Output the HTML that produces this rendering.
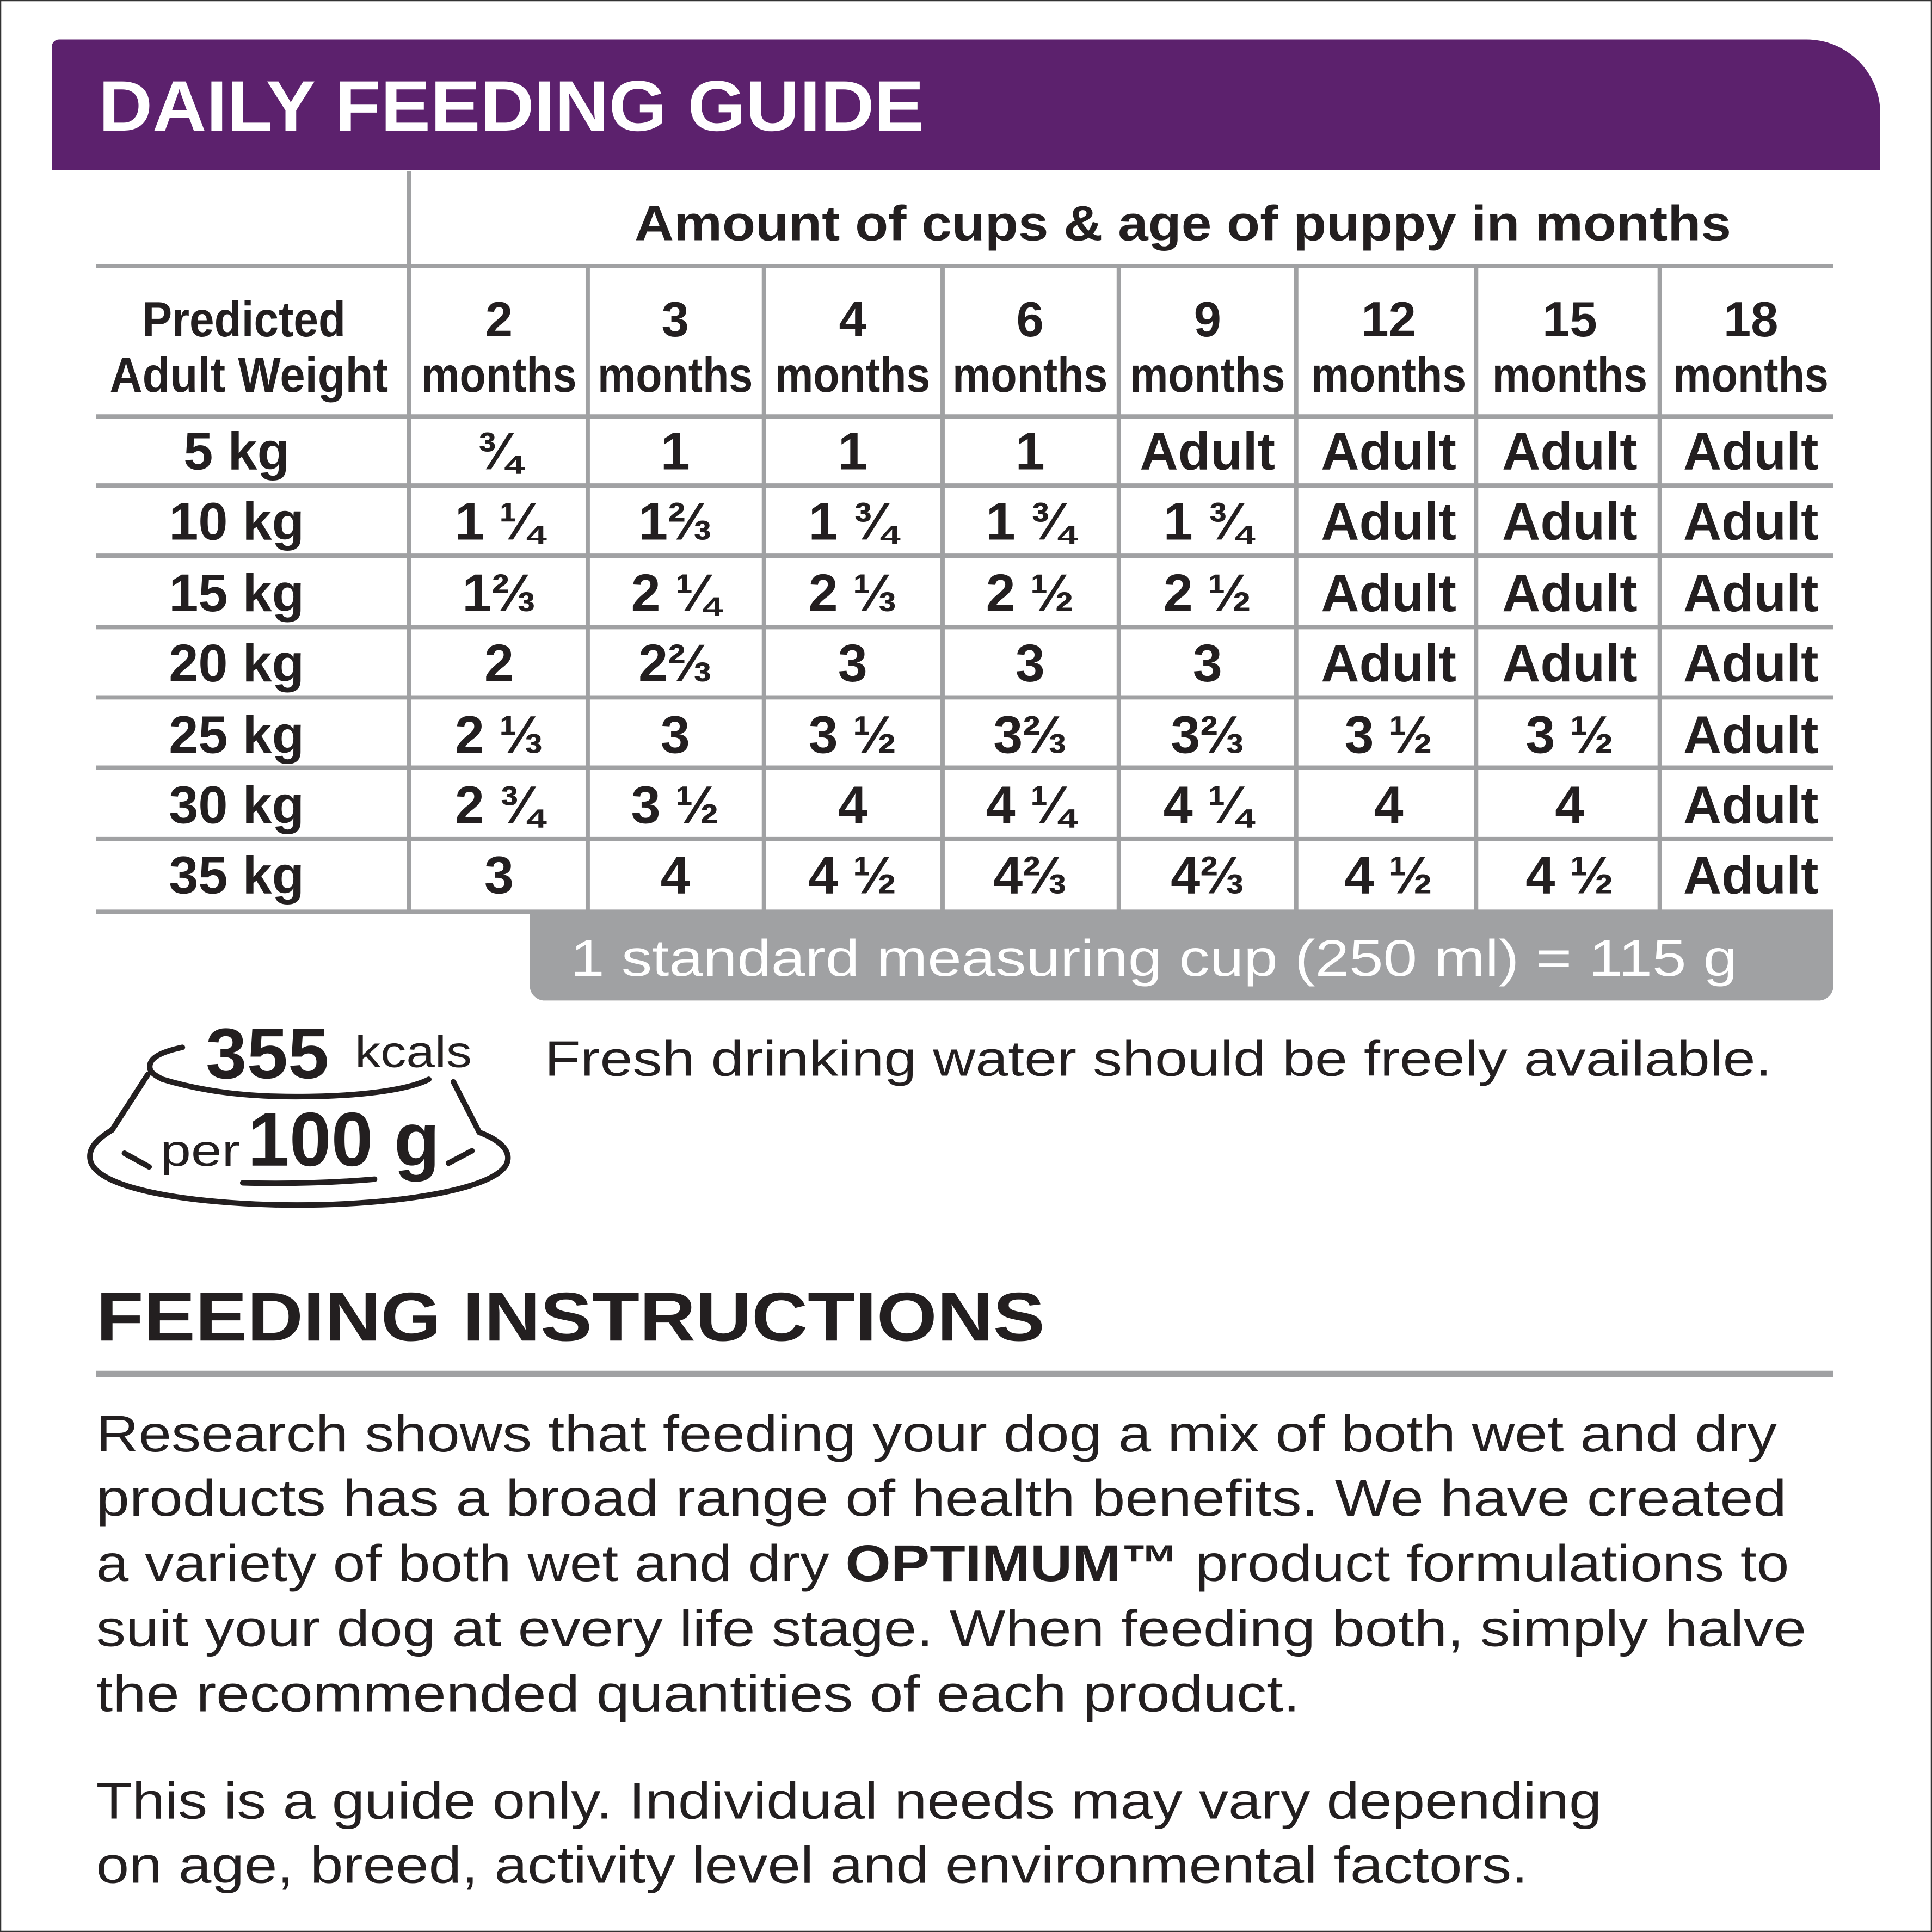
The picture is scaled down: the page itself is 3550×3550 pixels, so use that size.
<!DOCTYPE html>
<html><head><meta charset="utf-8"><style>
html,body{margin:0;padding:0;background:#fff;}
svg{display:block;}
text{font-family:"Liberation Sans",sans-serif;fill:#231f20;}
</style></head><body>
<svg width="3550" height="3550" viewBox="0 0 1568 1568" xmlns="http://www.w3.org/2000/svg">
<rect x="0.5" y="0.5" width="1567" height="1567" fill="#fff" stroke="#333" stroke-width="1"/>
<path d="M48 32 H1466 A60 60 0 0 1 1526 92 V138 H42 V38 A6 6 0 0 1 48 32 Z" fill="#5c216d"/>
<text x="80" y="106" font-size="58" font-weight="bold" style="fill:#fff" textLength="670" lengthAdjust="spacingAndGlyphs">DAILY FEEDING GUIDE</text>
<g stroke="#a0a1a3" stroke-width="3.5" fill="none">
<line x1="332" y1="139" x2="332" y2="740"/>
<line x1="78" y1="216" x2="1488" y2="216"/>
<line x1="78" y1="338" x2="1488" y2="338"/>
<line x1="78" y1="394" x2="1488" y2="394"/>
<line x1="78" y1="451" x2="1488" y2="451"/>
<line x1="78" y1="509" x2="1488" y2="509"/>
<line x1="78" y1="566" x2="1488" y2="566"/>
<line x1="78" y1="623" x2="1488" y2="623"/>
<line x1="78" y1="681" x2="1488" y2="681"/>
<line x1="78" y1="740" x2="1488" y2="740"/>
<line x1="477" y1="216" x2="477" y2="740"/>
<line x1="620" y1="216" x2="620" y2="740"/>
<line x1="765" y1="216" x2="765" y2="740"/>
<line x1="908" y1="216" x2="908" y2="740"/>
<line x1="1052" y1="216" x2="1052" y2="740"/>
<line x1="1198" y1="216" x2="1198" y2="740"/>
<line x1="1347" y1="216" x2="1347" y2="740"/>
<line x1="78" y1="1115" x2="1488" y2="1115" stroke-width="5"/>
</g>
<text x="960" y="195" font-size="40" font-weight="bold" text-anchor="middle" textLength="890" lengthAdjust="spacingAndGlyphs">Amount of cups &amp; age of puppy in months</text>
<g font-size="40" font-weight="bold" text-anchor="middle">
<text x="198" y="273" textLength="165" lengthAdjust="spacingAndGlyphs">Predicted</text>
<text x="202" y="318" textLength="226" lengthAdjust="spacingAndGlyphs">Adult Weight</text>
<text x="405" y="273">2</text><text x="548" y="273">3</text><text x="692" y="273">4</text><text x="836" y="273">6</text>
<text x="980" y="273">9</text><text x="1127" y="273">12</text><text x="1274" y="273">15</text><text x="1421" y="273">18</text>
<text x="405" y="318" textLength="126" lengthAdjust="spacingAndGlyphs">months</text>
<text x="548" y="318" textLength="126" lengthAdjust="spacingAndGlyphs">months</text>
<text x="692" y="318" textLength="126" lengthAdjust="spacingAndGlyphs">months</text>
<text x="836" y="318" textLength="126" lengthAdjust="spacingAndGlyphs">months</text>
<text x="980" y="318" textLength="126" lengthAdjust="spacingAndGlyphs">months</text>
<text x="1127" y="318" textLength="126" lengthAdjust="spacingAndGlyphs">months</text>
<text x="1274" y="318" textLength="126" lengthAdjust="spacingAndGlyphs">months</text>
<text x="1421" y="318" textLength="126" lengthAdjust="spacingAndGlyphs">months</text>
</g>
<g font-size="43" font-weight="bold" text-anchor="middle">
<text x="192" y="381">5 kg</text><text x="192" y="438">10 kg</text><text x="192" y="496">15 kg</text><text x="192" y="553">20 kg</text><text x="192" y="611">25 kg</text><text x="192" y="668">30 kg</text><text x="192" y="725">35 kg</text>

<text x="405" y="381">¾</text><text x="548" y="381">1</text><text x="692" y="381">1</text><text x="836" y="381">1</text><text x="980" y="381">Adult</text><text x="1127" y="381">Adult</text><text x="1274" y="381">Adult</text><text x="1421" y="381">Adult</text>
<text x="405" y="438">1 ¼</text><text x="548" y="438">1⅔</text><text x="692" y="438">1 ¾</text><text x="836" y="438">1 ¾</text><text x="980" y="438">1 ¾</text><text x="1127" y="438">Adult</text><text x="1274" y="438">Adult</text><text x="1421" y="438">Adult</text>
<text x="405" y="496">1⅔</text><text x="548" y="496">2 ¼</text><text x="692" y="496">2 ⅓</text><text x="836" y="496">2 ½</text><text x="980" y="496">2 ½</text><text x="1127" y="496">Adult</text><text x="1274" y="496">Adult</text><text x="1421" y="496">Adult</text>
<text x="405" y="553">2</text><text x="548" y="553">2⅔</text><text x="692" y="553">3</text><text x="836" y="553">3</text><text x="980" y="553">3</text><text x="1127" y="553">Adult</text><text x="1274" y="553">Adult</text><text x="1421" y="553">Adult</text>
<text x="405" y="611">2 ⅓</text><text x="548" y="611">3</text><text x="692" y="611">3 ½</text><text x="836" y="611">3⅔</text><text x="980" y="611">3⅔</text><text x="1127" y="611">3 ½</text><text x="1274" y="611">3 ½</text><text x="1421" y="611">Adult</text>
<text x="405" y="668">2 ¾</text><text x="548" y="668">3 ½</text><text x="692" y="668">4</text><text x="836" y="668">4 ¼</text><text x="980" y="668">4 ¼</text><text x="1127" y="668">4</text><text x="1274" y="668">4</text><text x="1421" y="668">Adult</text>
<text x="405" y="725">3</text><text x="548" y="725">4</text><text x="692" y="725">4 ½</text><text x="836" y="725">4⅔</text><text x="980" y="725">4⅔</text><text x="1127" y="725">4 ½</text><text x="1274" y="725">4 ½</text><text x="1421" y="725">Adult</text>
</g>
<path d="M430 742 H1488 V800 A12 12 0 0 1 1476 812 H442 A12 12 0 0 1 430 800 Z" fill="#a0a1a3"/>
<text x="463" y="792" font-size="42" style="fill:#fff" textLength="947" lengthAdjust="spacingAndGlyphs">1 standard measuring cup (250 ml) = 115 g</text>
<text x="442" y="873" font-size="40" textLength="996" lengthAdjust="spacingAndGlyphs">Fresh drinking water should be freely available.</text>
<g fill="none" stroke="#231f20" stroke-width="4.5" stroke-linecap="round" stroke-linejoin="round">
<path d="M148 850 C134 853 124 857 122 863 C120 869 124 872 132 876 C165 886 200 890 240 890 C290 890 330 885 348 876"/>
<path d="M120 872 L91 917"/>
<path d="M368 878 L389 919"/>
<path d="M91 917 C78 925 70 933 74 944 C85 968 170 978 241 978 C320 978 400 966 411 945 C416 934 405 925 389 919"/>
<path d="M101 936 L121 947"/>
<path d="M364 944 L383 934"/>
<path d="M197 960 C230 961 270 960 304 957"/>
</g>
<text x="167" y="875" font-size="58" font-weight="bold" textLength="100" lengthAdjust="spacingAndGlyphs">355</text>
<text x="288" y="866" font-size="36" textLength="95" lengthAdjust="spacingAndGlyphs">kcals</text>
<text x="130" y="946" font-size="36" textLength="65" lengthAdjust="spacingAndGlyphs">per</text>
<text x="201" y="946" font-size="62" font-weight="bold" textLength="156" lengthAdjust="spacingAndGlyphs">100 g</text>
<text x="78" y="1088" font-size="56" font-weight="bold" textLength="770" lengthAdjust="spacingAndGlyphs">FEEDING INSTRUCTIONS</text>
<g font-size="42">
<text x="78" y="1178" textLength="1364" lengthAdjust="spacingAndGlyphs">Research shows that feeding your dog a mix of both wet and dry</text>
<text x="78" y="1230" textLength="1372" lengthAdjust="spacingAndGlyphs">products has a broad range of health benefits.  We have created</text>
<text x="78" y="1283" textLength="1374" lengthAdjust="spacingAndGlyphs">a variety of both wet and dry <tspan font-weight="bold">OPTIMUM™</tspan> product formulations to</text>
<text x="78" y="1336" textLength="1388" lengthAdjust="spacingAndGlyphs">suit your dog at every life stage.  When feeding both, simply halve</text>
<text x="78" y="1389" textLength="977" lengthAdjust="spacingAndGlyphs">the recommended quantities of each product.</text>
<text x="78" y="1476" textLength="1222" lengthAdjust="spacingAndGlyphs">This is a guide only.  Individual needs may vary depending</text>
<text x="78" y="1528" textLength="1162" lengthAdjust="spacingAndGlyphs">on age, breed, activity level and environmental factors.</text>
</g>
</svg>
</body></html>
